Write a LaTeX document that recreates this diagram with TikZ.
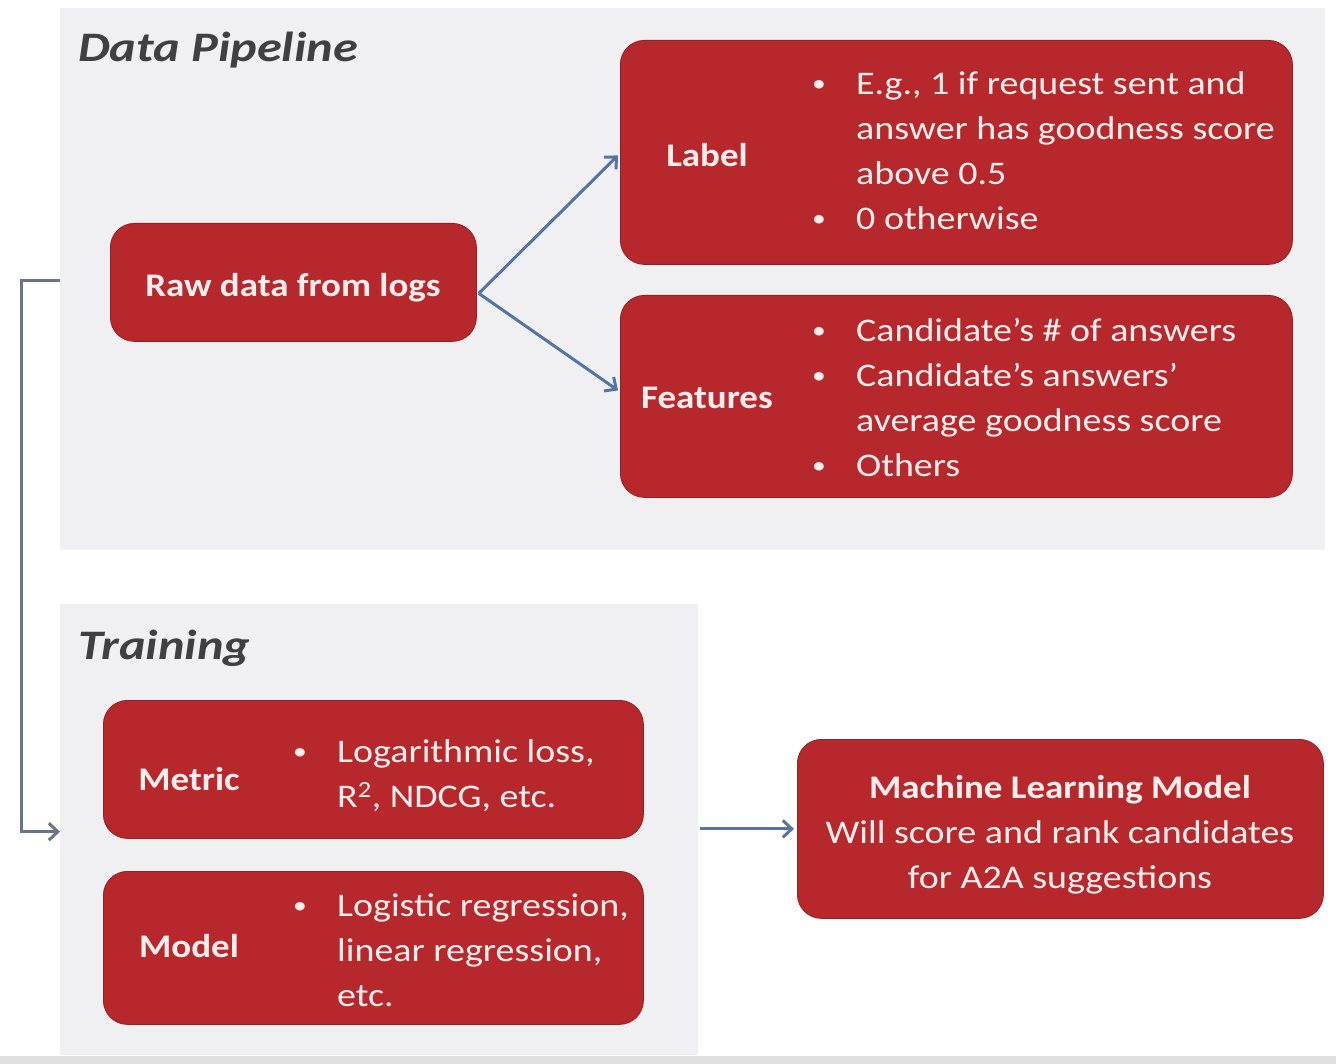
\documentclass[tikz,border=0pt]{standalone}
\usepackage{fontspec}
\setmainfont{Carlito}[FakeStretch=1.15, BoldFeatures={FakeStretch=1.12}]
\newfontfamily\titlefont{Carlito}[FakeStretch=1.2]
\usetikzlibrary{arrows.meta}
\definecolor{boxred}{RGB}{183,40,45}
\definecolor{panelgray}{RGB}{240,240,242}
\definecolor{arrowblue}{RGB}{84,117,163}
\definecolor{elbowgray}{RGB}{105,116,134}
\definecolor{titlegray}{RGB}{64,64,64}
\definecolor{txtwhite}{RGB}{252,238,236}
\newcommand{\bodyfont}{\fontsize{33}{45}\selectfont}
\tikzset{
  panel/.style={fill=panelgray, draw=none, anchor=north west, inner sep=0pt},
  redbox/.style={fill=boxred, draw=boxred!80!black, line width=0.8pt, rounded corners=24pt, anchor=north west, inner sep=0pt},
  title/.style={font=\titlefont\fontsize{42}{48}\selectfont\bfseries\itshape, text=titlegray, anchor=base west, inner sep=0pt},
  head/.style={font=\bodyfont\bfseries, text=txtwhite, anchor=base, inner sep=0pt},
  body/.style={font=\bodyfont, text=txtwhite, anchor=base west, inner sep=0pt},
  conn/.style={draw=arrowblue, line width=3pt, -{Straight Barb[length=9pt,width=17pt,line width=3pt]}},
  elbow/.style={draw=elbowgray, line width=3pt, -{Straight Barb[length=9pt,width=17pt,line width=3pt]}}
}
\newcommand{\bl}{\makebox[45pt][l]{\hspace{1pt}\raisebox{3pt}{\fontsize{24}{24}\selectfont\textbullet}}}
\begin{document}
\begin{tikzpicture}[x=1pt,y=-1pt]
\useasboundingbox (0,0) rectangle (1336,1064);
\fill[white] (0,0) rectangle (1336,1064);
\fill[black!12] (0,1056) rectangle (1336,1064);
% panels
\node[panel, minimum width=1265pt, minimum height=542pt] (pipe) at (60,8) {};
\node[panel, minimum width=638pt, minimum height=451pt] (train) at (60,604) {};
\node[title] (pipetitle) at (78,62) {Data Pipeline};
\node[title] (traintitle) at (78,659) {Training};
% boxes
\node[redbox, minimum width=366pt, minimum height=118pt] (raw) at (110,223) {};
\node[head] (rawtext) at (293,297) {Raw data from logs};
\node[redbox, minimum width=672pt, minimum height=224pt] (label) at (620,40) {};
\node[head] (labelhead) at (707,167) {Label};
\node[body] (labelbody) at (811,95) {\begin{tabular}[t]{@{}l@{}l@{}}\bl & E.g., 1 if request sent and\\ & answer has goodness score\\ & above 0.5\\ \bl & 0 otherwise\end{tabular}};
\node[redbox, minimum width=672pt, minimum height=202pt] (feat) at (620,295) {};
\node[head] (feathead) at (707,409) {Features};
\node[body] (featbody) at (811,342) {\begin{tabular}[t]{@{}l@{}l@{}}\bl & Candidate’s \# of answers\\ \bl & Candidate’s answers’\\ & average goodness score\\ \bl & Others\end{tabular}};
\node[redbox, minimum width=540pt, minimum height=138pt] (metric) at (103,700) {};
\node[head] (metrichead) at (189,790) {Metric};
\node[body] (metricbody) at (292,762) {\begin{tabular}[t]{@{}l@{}l@{}}\bl & Logarithmic loss,\\ & R\textsuperscript{2}, NDCG, etc.\end{tabular}};
\node[redbox, minimum width=540pt, minimum height=153pt] (model) at (103,871) {};
\node[head] (modelhead) at (189,957) {Model};
\node[body] (modelbody) at (292,916) {\begin{tabular}[t]{@{}l@{}l@{}}\bl & Logistic regression,\\ & linear regression,\\ & etc.\end{tabular}};
\node[redbox, minimum width=526pt, minimum height=179pt] (ml) at (797,739) {};
\node[body, anchor=base] (mltext) at (1060,798) {\begin{tabular}[t]{@{}c@{}}\textbf{Machine Learning Model}\\Will score and rank candidates\\for A2A suggestions\end{tabular}};
% connectors
\coordinate (rawout) at ([xshift=2pt,yshift=-11pt]raw.east);
\draw[conn] (rawout) -- ([xshift=-2pt,yshift=-3pt]label.west);
\draw[conn] (rawout) -- ([xshift=-2pt,yshift=6pt]feat.west);
\coordinate (elbowstart) at ([yshift=2pt]pipe.west |- raw.east);
\draw[elbow] (elbowstart) -- ++(-39,0) |- ([yshift=-2pt]train.west);
\draw[conn] ([xshift=2pt]train.east |- ml.west) -- ([xshift=-3pt]ml.west);
\end{tikzpicture}
\end{document}
